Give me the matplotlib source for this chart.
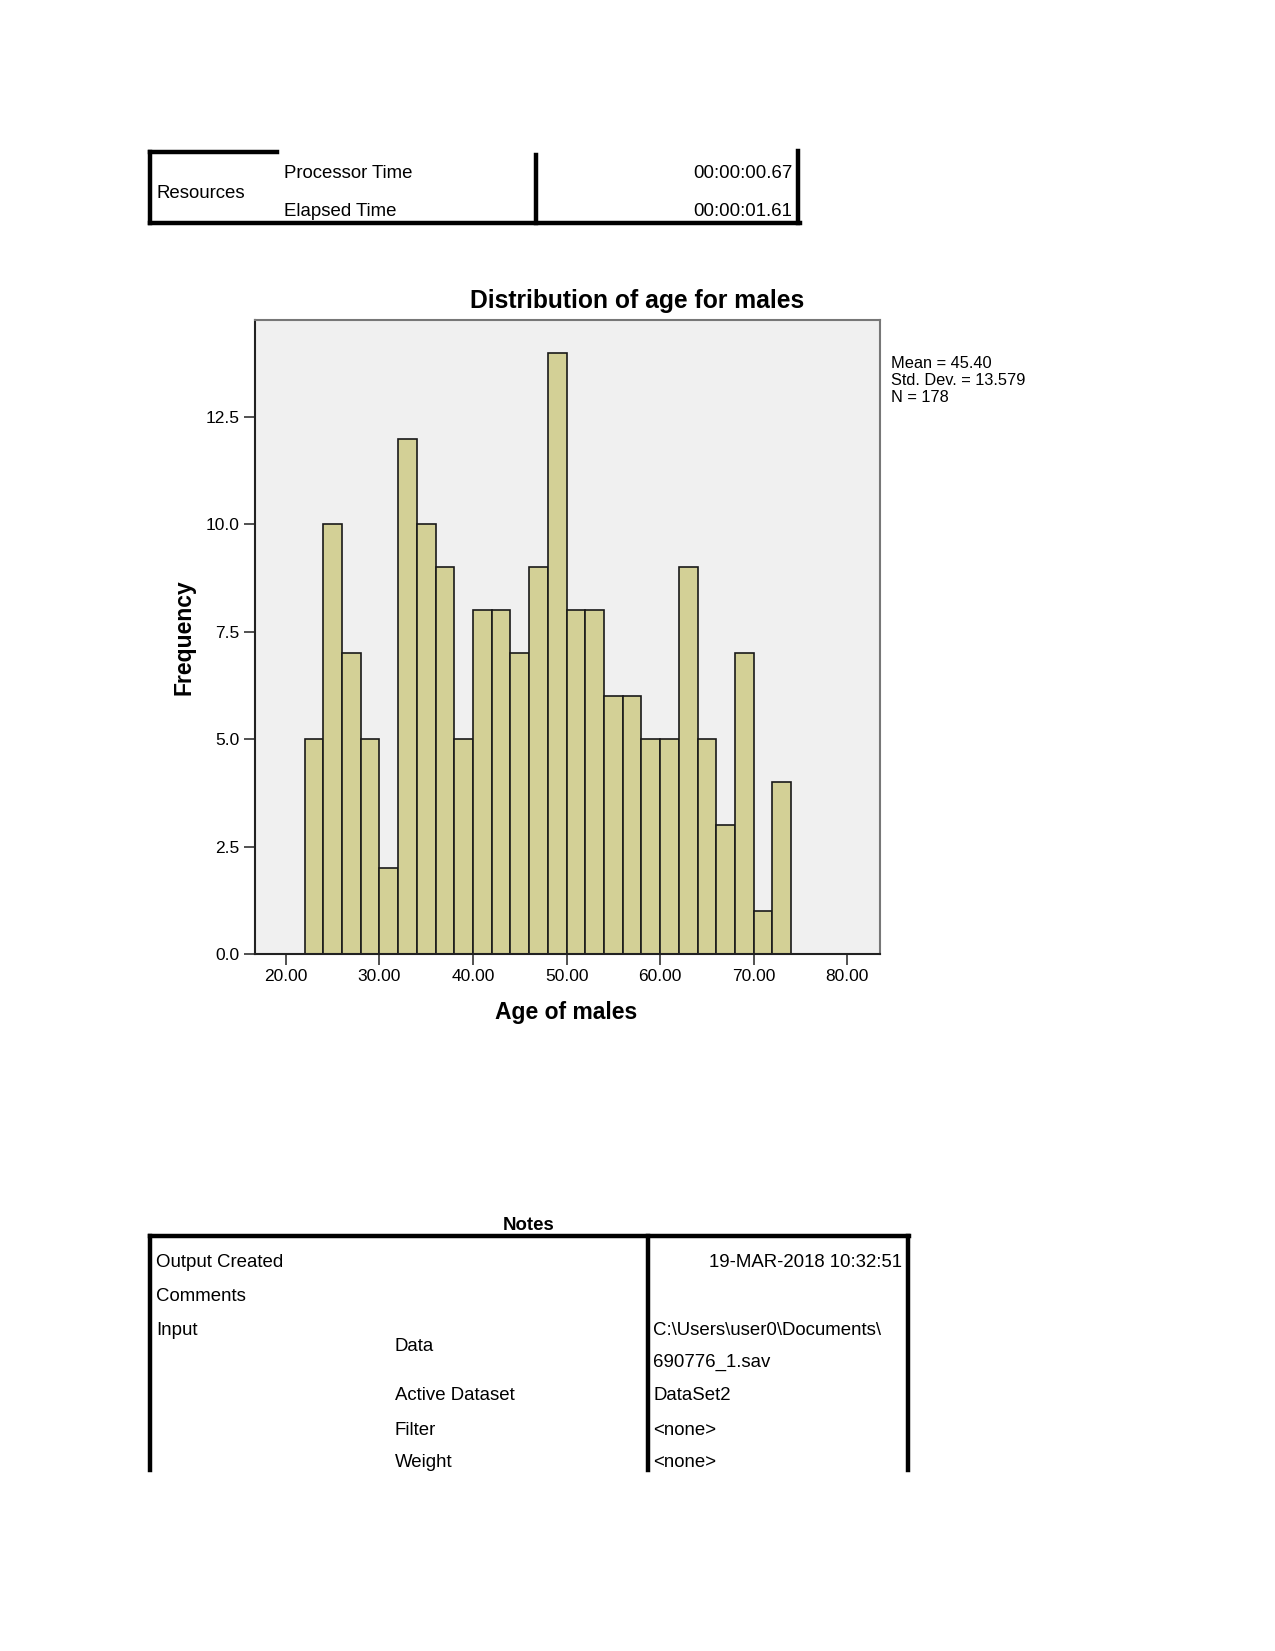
import numpy as np
import matplotlib
matplotlib.use("Agg")
import matplotlib.pyplot as plt
from matplotlib.lines import Line2D

# Histogram data: age bins (lower edges, width 2) and counts
bin_lower = [22, 24, 26, 28, 30, 32, 34, 36, 38, 40, 42, 44, 46,
             48, 50, 52, 54, 56, 58, 60, 62, 64, 66, 68, 70, 72]
counts = [5, 10, 7, 5, 2, 12, 10, 9, 5, 8, 8, 7, 9,
          14, 8, 8, 6, 6, 5, 5, 9, 5, 3, 7, 1, 4]
bin_width = 2
x_ticks = [20, 30, 40, 50, 60, 70, 80]
y_ticks = [0.0, 2.5, 5.0, 7.5, 10.0, 12.5]
stats_lines = ["Mean = 45.40", "Std. Dev. = 13.579", "N = 178"]

# Table contents
res_rows = ["Processor Time", "Elapsed Time"]
res_vals = ["00:00:00.67", "00:00:01.61"]
notes_left = ["Output Created", "Comments", "Input"]
notes_mid = ["Data", "Active Dataset", "Filter", "Weight"]
notes_right = ["C:\\Users\\user0\\Documents\\", "690776_1.sav",
               "DataSet2", "<none>", "<none>"]

W, H = 1275, 1651
plt.rcParams['font.family'] = ['Liberation Sans', 'DejaVu Sans']

fig = plt.figure(figsize=(W / 100, H / 100), dpi=100)


def fx(x):
    return x / W


def fy(y):
    return 1 - y / H


def hline(x0, x1, y, lw=3.2):
    fig.add_artist(Line2D([fx(x0), fx(x1)], [fy(y), fy(y)], color='black',
                          lw=lw, transform=fig.transFigure, solid_capstyle='projecting'))


def vline(x, y0, y1, lw=3.2):
    fig.add_artist(Line2D([fx(x), fx(x)], [fy(y0), fy(y1)], color='black',
                          lw=lw, transform=fig.transFigure, solid_capstyle='projecting'))


def txt(x, y, s, ha='left', **kw):
    fig.text(fx(x), fy(y), s, ha=ha, va='center', fontsize=13.4, **kw)


# ---- Resources table ----
hline(149.5, 277, 152)
vline(149.5, 152, 222.5)
vline(536, 155, 222.5)
vline(798, 151, 222.5)
hline(149.5, 800, 222.5)
txt(156, 193, "Resources")
for i, (r, v) in enumerate(zip(res_rows, res_vals)):
    y = 174 + i * 37
    txt(284, y, r)
    txt(792, y, v, ha='right')

# ---- Histogram ----
ax = fig.add_axes([fx(255), fy(954), fx(880) - fx(255), fy(320) - fy(954)])
ax.set_facecolor('#f0f0f0')
ax.bar(bin_lower, counts, width=bin_width, align='edge', color='#d3d096',
       edgecolor='#1a1a1a', linewidth=1.2)
ax.set_xlim(16.7, 83.5)
ax.set_ylim(0, 14.76)
ax.set_xticks(x_ticks)
ax.set_xticklabels([f"{t:.2f}" for t in x_ticks], fontsize=12.5)
ax.set_yticks(y_ticks)
ax.set_yticklabels([f"{t:.1f}" for t in y_ticks], fontsize=12.5)
ax.tick_params(direction='out', length=8, width=1.2, color='#333333', pad=3)
for s in ['left', 'bottom']:
    ax.spines[s].set_color('#222222')
    ax.spines[s].set_linewidth(1.5)
for s in ['top', 'right']:
    ax.spines[s].set_color('#777777')
    ax.spines[s].set_linewidth(1.5)

fig.text(fx(637), fy(301), "Distribution of age for males", ha='center',
         va='center', fontsize=17.7, fontweight='bold')
fig.text(fx(566), fy(1013), "Age of males", ha='center', va='center',
         fontsize=16.5, fontweight='bold')
fig.text(fx(184), fy(637), "Frequency", ha='center', va='center',
         fontsize=16.5, fontweight='bold', rotation=90)
for i, s in enumerate(stats_lines):
    fig.text(fx(891), fy(363.5 + i * 17), s, ha='left', va='center',
             fontsize=11.8)

# ---- Notes table ----
fig.text(fx(528.5), fy(1225), "Notes", ha='center', va='center',
         fontsize=13.4, fontweight='bold')
hline(149.5, 909, 1236)
vline(149.5, 1236, 1470)
vline(647.5, 1236, 1470)
vline(907.5, 1236, 1470)

for i, s in enumerate(notes_left):
    txt(156, 1262.5 + i * 33.8, s)
txt(902, 1262.5, "19-MAR-2018 10:32:51", ha='right')
for s, y in zip(notes_mid, [1346, 1395.5, 1430, 1462.5]):
    txt(395, y, s)
for s, y in zip(notes_right, [1330, 1362.5, 1395.5, 1430, 1462.5]):
    txt(653, y, s)

fig.savefig("out.png", dpi=100)
